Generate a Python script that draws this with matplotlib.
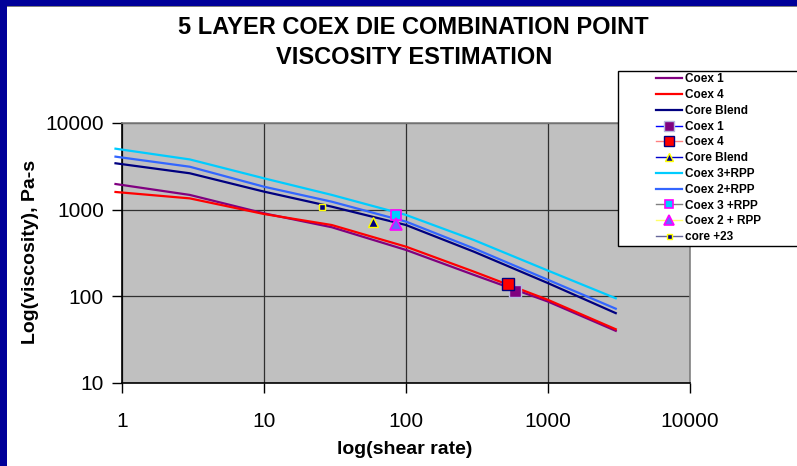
import matplotlib
matplotlib.use("Agg")
import matplotlib.pyplot as plt
from matplotlib.patches import Rectangle

plt.rcParams['font.family'] = ['Liberation Sans', 'DejaVu Sans']

# ---- data ----
shear = [0.9, 3, 10, 30, 100, 300, 1000, 3000]
coex1 = [1977, 1480, 907, 627, 343, 177, 87, 40]
coex4 = [1600, 1350, 891, 665, 374, 193, 91, 41.7]
core_blend = [3430, 2630, 1615, 1083, 665, 328, 142, 64]
coex3_rpp = [5055, 3800, 2300, 1480, 869, 447, 198, 95]
coex2_rpp = [4090, 3130, 1840, 1236, 728, 358, 155, 72]

pt_coex1 = ([586], [115])
pt_coex4 = ([525], [138])
pt_core = ([58.9], [727])
pt_coex3 = ([84.6], [868])
pt_coex2 = ([84.6], [680])
pt_core23 = ([25.5], [1083])

xticks = [1, 10, 100, 1000, 10000]
yticks = [10, 100, 1000, 10000]

W, H = 797, 466
fig = plt.figure(figsize=(W / 100, H / 100), dpi=100)
fig.patch.set_facecolor('white')

ax = fig.add_axes([122 / W, 1 - 383 / H, (690 - 122) / W, (383 - 123) / H])
ax.set_facecolor('#C0C0C0')
ax.set_xscale('log')
ax.set_yscale('log')
ax.set_xlim(1, 10000)
ax.set_ylim(10, 10000)

lw = 1.6
l1, = ax.plot(shear, coex1, color='#800080', lw=lw, clip_on=False, zorder=3)
l2, = ax.plot(shear, coex4, color='#FF0000', lw=lw, clip_on=False, zorder=3)
l3, = ax.plot(shear, core_blend, color='#000080', lw=lw, clip_on=False, zorder=3)
l7, = ax.plot(shear, coex3_rpp, color='#00CCFF', lw=lw, clip_on=False, zorder=3)
l8, = ax.plot(shear, coex2_rpp, color='#3366FF', lw=lw, clip_on=False, zorder=3)

m4, = ax.plot(*pt_coex1, color='#0000FF', lw=1, marker='s', ms=8, mfc='#800080', mec='#B8B8E0', mew=1, zorder=4)
m5, = ax.plot(*pt_coex4, color='#FF8080', lw=1, marker='s', ms=8, mfc='#FF0000', mec='#000080', mew=1, zorder=4)
m6, = ax.plot(*pt_core, color='#0000CC', lw=1, marker='^', ms=7, mfc='#000080', mec='#FFFF00', mew=1, zorder=4)
m9, = ax.plot(*pt_coex3, color='#808080', lw=1, marker='s', ms=7, mfc='#00CCFF', mec='#FF00FF', mew=1.2, zorder=4)
m10, = ax.plot(*pt_coex2, color='#FFFF66', lw=1, marker='^', ms=8, mfc='#6666FF', mec='#FF00FF', mew=1.2, zorder=4)
m11, = ax.plot(*pt_core23, color='#666699', lw=1, marker='s', ms=4, mfc='#000080', mec='#FFFF00', mew=1, zorder=4)

ax.set_xticks(xticks)
ax.set_xticklabels([str(v) for v in xticks])
ax.set_yticks(yticks)
ax.set_yticklabels([str(v) for v in yticks])
ax.minorticks_off()
ax.tick_params(axis='x', which='major', direction='out', length=7, width=1, labelsize=15, pad=14)
ax.tick_params(axis='y', which='major', direction='out', length=7, width=1, labelsize=15, pad=6)
ax.grid(True, which='major', color='#303030', lw=0.9)
ax.set_axisbelow(True)
for s in ['left', 'bottom']:
    ax.spines[s].set_color('black')
    ax.spines[s].set_linewidth(1.2)
for s in ['top', 'right']:
    ax.spines[s].set_color('#808080')
    ax.spines[s].set_linewidth(1.2)

fig.text(405 / W, 1 - 450 / H, 'log(shear rate)', ha='center', va='center',
         fontsize=14, fontweight='bold')
fig.text(31 / W, 1 - 252 / H, 'Log(viscosity), Pa-s', ha='center', va='center',
         rotation=90, fontsize=14, fontweight='bold')

fig.text(413 / W, 1 - 28 / H, '5 LAYER COEX DIE COMBINATION POINT', ha='center', va='center',
         fontsize=17, fontweight='bold')
fig.text(414 / W, 1 - 57 / H, 'VISCOSITY ESTIMATION', ha='center', va='center',
         fontsize=17, fontweight='bold')

# legend frame
fig.add_artist(Rectangle((618 / W, 1 - 246 / H), (820 - 618) / W, (246 - 71) / H,
                         transform=fig.transFigure, facecolor='white', edgecolor='black',
                         lw=1, zorder=5, clip_on=False))
handles = [l1, l2, l3, m4, m5, m6, l7, l8, m9, m10, m11]
labels = ['Coex 1', 'Coex 4', 'Core Blend', 'Coex 1', 'Coex 4', 'Core Blend',
          'Coex 3+RPP', 'Coex 2+RPP', 'Coex 3 +RPP', 'Coex 2 + RPP', 'core +23']
leg = fig.legend(handles, labels, loc='upper left', bbox_to_anchor=(654 / W, 1 - 71 / H),
                 frameon=False, borderpad=0.2, borderaxespad=0, handlelength=2.2,
                 handletextpad=0.25, labelspacing=0.32,
                 prop={'family': 'Liberation Sans', 'weight': 'bold', 'size': 8.5},
                 markerscale=0.9)
leg.set_zorder(6)

# blue frame
fig.add_artist(Rectangle((0, 1 - 6 / H), 1, 6 / H, transform=fig.transFigure,
                         facecolor='#000099', edgecolor='none', zorder=7))
fig.add_artist(Rectangle((0, 1 - 7 / H), 1, 1 / H, transform=fig.transFigure,
                         facecolor='#808080', edgecolor='none', zorder=7))
fig.add_artist(Rectangle((0, 0), 7 / W, 1, transform=fig.transFigure,
                         facecolor='#000099', edgecolor='none', zorder=8))

fig.savefig('out.png', dpi=100)
